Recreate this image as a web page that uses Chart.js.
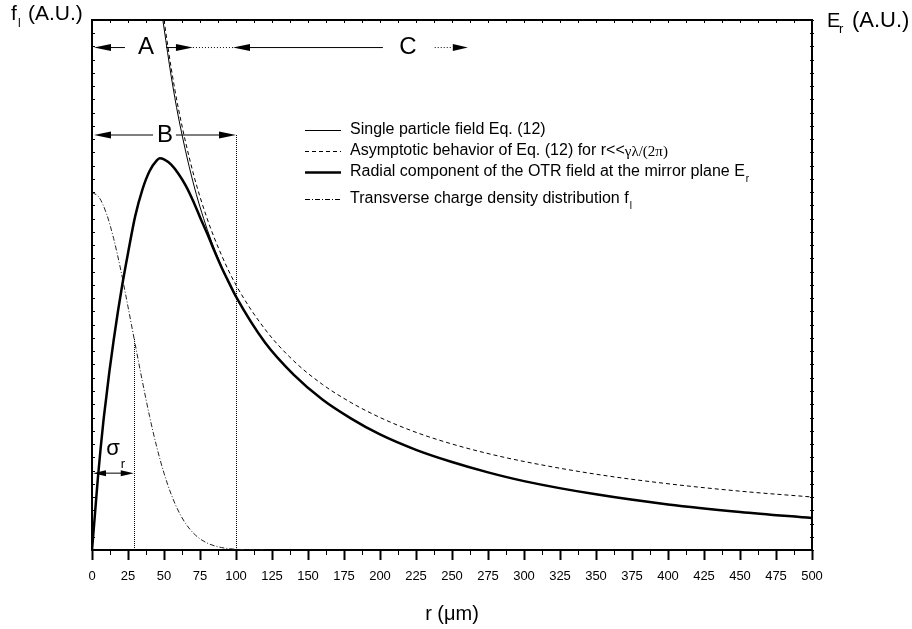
<!DOCTYPE html>
<html>
<head>
<meta charset="utf-8">
<script src="https://cdn.jsdelivr.net/npm/chart.js@4.4.1/dist/chart.umd.min.js"></script>
<style>
  body { margin: 0; background: #fff; }
  #wrap { width: 912px; height: 629px; }
</style>
</head>
<body>
<div id="wrap"><canvas id="c" width="912" height="629"></canvas></div>
<script>
// radial OTR field at the mirror plane (thick line)
const rField = [0, 2, 4, 6, 8, 10, 12, 15, 18, 21, 25, 30, 35, 40, 45, 47, 50, 55, 60, 65, 70, 75, 80, 85, 90, 95, 100,
  120, 140, 160, 180, 200, 225, 250, 275, 300, 350, 400, 450, 500];
const eField = [0, 0.066, 0.133, 0.192, 0.245, 0.29, 0.335, 0.395, 0.45, 0.5, 0.56, 0.63, 0.68, 0.715, 0.735, 0.739, 0.737,
  0.727, 0.71, 0.688, 0.66, 0.628, 0.597, 0.564, 0.533, 0.505, 0.478,
  0.392, 0.331, 0.284, 0.248, 0.218, 0.189, 0.166, 0.1465, 0.130, 0.105, 0.086, 0.0717, 0.0602];

// single particle field Eq. (12) (thin line)
const rSingle = [49.2, 50, 55, 60, 70, 80, 90, 100, 120, 140, 160, 180, 200, 225, 250, 275, 300, 350, 400, 450, 500];
const eSingle = [1.0, 0.985, 0.894, 0.817, 0.696, 0.605, 0.535, 0.478, 0.392, 0.331, 0.284, 0.248, 0.218, 0.189,
  0.166, 0.1465, 0.130, 0.105, 0.086, 0.0717, 0.0602];

// asymptotic behaviour (dashed)
const rAsym = [50, 55, 60, 70, 80, 90, 100, 120, 140, 160, 180, 200, 225, 250, 275, 300, 350, 400, 450, 500];
const eAsym = [1.0, 0.909, 0.833, 0.714, 0.625, 0.556, 0.5, 0.417, 0.357, 0.3125, 0.278, 0.25, 0.222, 0.2, 0.182,
  0.167, 0.143, 0.125, 0.111, 0.1];

// transverse charge density f_l (dash-dot)
const rDensity = [0, 5, 10, 15, 20, 25, 30, 35, 40, 45, 50, 55, 60, 65, 70, 75, 80, 85, 90, 95, 100, 110, 120];
const fDensity = [0.675, 0.665, 0.635, 0.588, 0.528, 0.459, 0.388, 0.318, 0.252, 0.194, 0.145, 0.105, 0.0736, 0.05,
  0.033, 0.0211, 0.0131, 0.0079, 0.0046, 0.0026, 0.0014, 0.0004, 0.0001];

const xTickStep = 25;
const legendRows = [
  'Single particle field Eq. (12)',
  'Asymptotic behavior of Eq. (12) for r<<',
  'Radial component of the OTR field at the mirror plane E',
  'Transverse charge density distribution f'
];

const SANS = '"Liberation Sans", Arial, sans-serif';
const SERIF = '"Liberation Serif", "Times New Roman", serif';

function pts(xs, ys) {
  return xs.map((v, i) => ({ x: v, y: ys[i] }));
}

function head(ctx, tipX, yy, dir, len, half) {
  ctx.beginPath();
  ctx.moveTo(tipX, yy);
  ctx.lineTo(tipX - dir * len, yy - half);
  ctx.lineTo(tipX - dir * len, yy + half);
  ctx.closePath();
  ctx.fill();
}

function seg(ctx, x0, y0, x1, y1, dash) {
  ctx.save();
  ctx.setLineDash(dash || []);
  ctx.beginPath();
  ctx.moveTo(x0, y0);
  ctx.lineTo(x1, y1);
  ctx.stroke();
  ctx.restore();
}

const decor = {
  id: 'decor',
  afterDraw(chart) {
    const { ctx, chartArea: a } = chart;
    const x = chart.scales.x, y = chart.scales.y;
    ctx.save();
    ctx.strokeStyle = '#000';
    ctx.fillStyle = '#000';
    ctx.lineWidth = 1;

    // minor ticks on bottom, inward ticks on top/left/right
    for (let v = 0; v <= 500.01; v += 12.5) {
      const px = Math.round(x.getPixelForValue(v)) + 0.5;
      seg(ctx, px, a.top, px, a.top + 3);
      if (v % 25 !== 0) seg(ctx, px, a.bottom, px, a.bottom + 5);
    }
    for (let v = 0; v <= 1.0001; v += 0.025) {
      const py = Math.round(y.getPixelForValue(v)) + 0.5;
      seg(ctx, a.left, py, a.left + 3, py);
      seg(ctx, a.right - 2, py, a.right + 2, py);
    }

    // vertical dotted guides
    const g1 = Math.round(x.getPixelForValue(29)) + 0.5;
    const g2 = Math.round(x.getPixelForValue(100)) + 0.5;
    seg(ctx, g1, y.getPixelForValue(0), g1, y.getPixelForValue(0.40), [1, 1]);
    seg(ctx, g2, y.getPixelForValue(0), g2, y.getPixelForValue(0.783), [1, 1]);

    // A / C row
    const yA = y.getPixelForValue(0.948);
    seg(ctx, x.getPixelForValue(22.9), yA, x.getPixelForValue(0) + 10, yA);
    head(ctx, x.getPixelForValue(0) + 2, yA, -1, 17, 3.5);
    seg(ctx, x.getPixelForValue(51.4), yA, x.getPixelForValue(60), yA);
    head(ctx, x.getPixelForValue(70.1), yA, 1, 17, 3.5);
    seg(ctx, x.getPixelForValue(70.1), yA, x.getPixelForValue(97.9), yA, [1, 2]);
    head(ctx, x.getPixelForValue(97.9), yA, -1, 17, 3.5);
    seg(ctx, x.getPixelForValue(105), yA, x.getPixelForValue(202), yA);
    seg(ctx, x.getPixelForValue(238), yA, x.getPixelForValue(250), yA, [1, 2]);
    head(ctx, x.getPixelForValue(261), yA, 1, 15, 3.5);

    // B row
    const yB = y.getPixelForValue(0.783);
    seg(ctx, x.getPixelForValue(42.4), yB, x.getPixelForValue(0) + 10, yB);
    head(ctx, x.getPixelForValue(0) + 2, yB, -1, 17, 3.5);
    seg(ctx, x.getPixelForValue(58.3), yB, x.getPixelForValue(90), yB);
    head(ctx, x.getPixelForValue(100), yB, 1, 17, 3.5);

    // sigma_r double arrow
    const yS = y.getPixelForValue(0.145);
    seg(ctx, x.getPixelForValue(0) + 5, yS, x.getPixelForValue(29) - 5, yS);
    head(ctx, x.getPixelForValue(0) + 1, yS, -1, 13, 3);
    head(ctx, x.getPixelForValue(29), yS, 1, 13, 3);

    ctx.textAlign = 'center';
    ctx.textBaseline = 'middle';
    ctx.font = '24px ' + SANS;
    ctx.fillText('A', x.getPixelForValue(37.5), yA);
    ctx.fillText('C', x.getPixelForValue(219.4), yA);
    ctx.fillText('B', x.getPixelForValue(50.7), yB);
    ctx.font = '22px ' + SANS;
    ctx.fillText('σ', x.getPixelForValue(14.6), y.getPixelForValue(0.19));
    ctx.font = '13px ' + SANS;
    ctx.fillText('r', x.getPixelForValue(21.5), y.getPixelForValue(0.162));

    // axis side labels
    ctx.textAlign = 'left';
    ctx.textBaseline = 'alphabetic';
    ctx.font = '21px ' + SANS;
    ctx.fillText('f', 11, 20);
    ctx.fillText('(A.U.)', 28, 20);
    ctx.font = '12px ' + SANS;
    ctx.fillText('l', 18, 27);
    ctx.font = '20px ' + SANS;
    ctx.fillText('E', 827, 27);
    ctx.font = '22px ' + SANS;
    ctx.fillText('(A.U.)', 852, 27);
    ctx.font = '13px ' + SANS;
    ctx.fillText('r', 839, 33);

    // legend
    const lx0 = 305, lx1 = 341, tx = 350;
    const rowsY = [130, 151, 172, 199];
    const styles = [
      { w: 1, dash: [] },
      { w: 1, dash: [4, 3] },
      { w: 2.5, dash: [] },
      { w: 1, dash: [5, 2, 1, 2] }
    ];
    rowsY.forEach((ry, i) => {
      ctx.lineWidth = styles[i].w;
      seg(ctx, lx0, ry + 0.5, lx1, ry + 0.5, styles[i].dash);
    });
    ctx.textBaseline = 'middle';
    ctx.font = '16px ' + SANS;
    legendRows.forEach((t, i) => ctx.fillText(t, tx, rowsY[i]));
    // serif tail of row 2
    let w = ctx.measureText(legendRows[1]).width;
    ctx.font = '15px ' + SERIF;
    ctx.fillText('γλ/(2π)', tx + w, rowsY[1] + 1);
    // subscripts of rows 3 and 4
    ctx.font = '16px ' + SANS;
    w = ctx.measureText(legendRows[2]).width;
    ctx.font = '10px ' + SANS;
    ctx.fillText('r', tx + w + 1, rowsY[2] + 7);
    ctx.font = '16px ' + SANS;
    w = ctx.measureText(legendRows[3]).width;
    ctx.font = '10px ' + SANS;
    ctx.fillText('l', tx + w + 1, rowsY[3] + 7);
    ctx.restore();
  }
};

new Chart(document.getElementById('c'), {
  type: 'line',
  data: {
    datasets: [
      { label: 'Radial component of the OTR field at the mirror plane Er', data: pts(rField, eField),
        borderColor: '#000', borderWidth: 2.5, pointRadius: 0, cubicInterpolationMode: 'monotone' },
      { label: 'Single particle field Eq. (12)', data: pts(rSingle, eSingle),
        borderColor: '#000', borderWidth: 1, pointRadius: 0, cubicInterpolationMode: 'monotone' },
      { label: 'Asymptotic behavior of Eq. (12)', data: pts(rAsym, eAsym),
        borderColor: '#000', borderWidth: 1, borderDash: [4, 3], pointRadius: 0, cubicInterpolationMode: 'monotone' },
      { label: 'Transverse charge density distribution fl', data: pts(rDensity, fDensity),
        borderColor: '#222', borderWidth: 1, borderDash: [5, 2, 1, 2], pointRadius: 0, cubicInterpolationMode: 'monotone' }
    ]
  },
  options: {
    responsive: false,
    animation: false,
    layout: { padding: 0 },
    plugins: { legend: { display: false }, tooltip: { enabled: false } },
    scales: {
      x: {
        type: 'linear', position: 'bottom', min: 0, max: 500,
        ticks: { stepSize: xTickStep, color: '#000', font: { family: SANS, size: 13 }, padding: 9, maxRotation: 0, autoSkip: false },
        grid: { drawOnChartArea: false, tickLength: 10, tickWidth: 2, tickColor: '#000' },
        border: { color: '#000', width: 2 },
        title: { display: true, text: 'r (μm)', color: '#000', font: { family: SANS, size: 20 }, padding: { top: 0, bottom: 3 } },
        afterFit: s => { s.height = 79; }
      },
      xTop: {
        type: 'linear', position: 'top', min: 0, max: 500,
        ticks: { display: false }, grid: { drawOnChartArea: false, drawTicks: false },
        border: { color: '#000', width: 2 },
        afterFit: s => { s.height = 20; }
      },
      y: {
        type: 'linear', position: 'left', min: 0, max: 1,
        ticks: { display: false }, grid: { drawOnChartArea: false, drawTicks: false },
        border: { color: '#000', width: 2 },
        afterFit: s => { s.width = 92; }
      },
      yRight: {
        type: 'linear', position: 'right', min: 0, max: 1,
        ticks: { display: false }, grid: { drawOnChartArea: false, drawTicks: false },
        border: { color: '#000', width: 2 },
        afterFit: s => { s.width = 100; }
      }
    }
  },
  plugins: [decor]
});
</script>
</body>
</html>
